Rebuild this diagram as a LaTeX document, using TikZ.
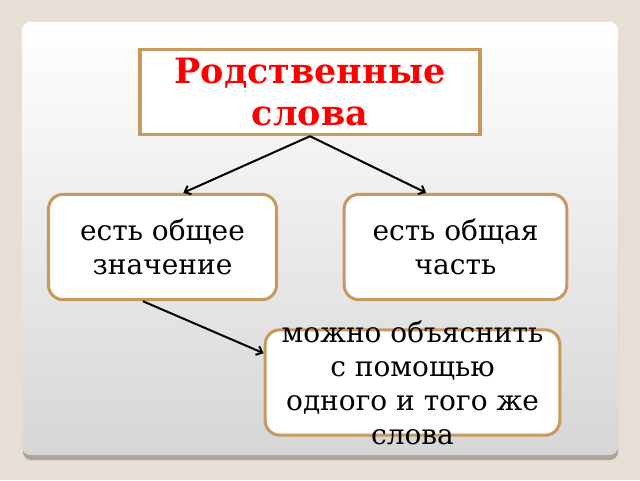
\documentclass[tikz,border=0pt]{standalone}
\usepackage{fontspec}
\setmainfont{DejaVu Serif}
\usetikzlibrary{calc}
\usetikzlibrary{arrows.meta}

\definecolor{slidebg}{HTML}{E6DFD5}
\definecolor{panelshadow}{HTML}{A9A69E}
\definecolor{panelbottom}{HTML}{D6D6D6}
\definecolor{boxborder}{HTML}{C69A5C}

\begin{document}
\begin{tikzpicture}
        [
        x=0.75pt, y=-0.75pt,
        titlebox/.style={draw=boxborder,line width=2.3pt,fill=white,inner sep=0pt,
                minimum width=255pt,minimum height=64pt},
        roundbox/.style={draw=boxborder,line width=2.3pt,fill=white,inner sep=0pt,
                rounded corners=11pt,minimum height=79pt},
        txt/.style={align=center,inner sep=0pt,font=\fontsize{21}{25.5}\selectfont},
        >={Straight Barb[length=4pt,width=7pt]}
        ]
        % slide and panel
        \fill[slidebg] (0,0) rectangle (640,480);
        \fill[panelshadow,rounded corners=6pt] (23,30) rectangle (618,460);
        \shade[top color=white,bottom color=panelbottom,rounded corners=6pt] (22,22) rectangle (618,455);

        \node[titlebox,text=red,align=center,font=\fontsize{26.2}{31.5}\selectfont\bfseries]
                (title) at (310,92) {Родственные\\слова};
        \node[roundbox,txt,minimum width=171pt] (meaning) at (162.5,247) {есть общее\\значение};
        \node[roundbox,txt,minimum width=167pt] (part) at (455.5,247) {есть общая\\часть};
        \node[roundbox,minimum width=221pt] (explain) at (412.5,382.5) {};
        \node[txt] (explaintxt) at (explain.center) {можно объяснить\\с помощью\\одного и того же\\слова};

        \draw[->,line width=1.5pt] (title.south) -- ($(meaning.north west)!0.59!(meaning.north east)$);
        \draw[->,line width=1.5pt] (title.south) -- ($(part.north west)!0.37!(part.north east)$);
        \draw[->,line width=1.5pt] ($(meaning.south west)!0.415!(meaning.south east)$)
                -- ($(explain.north west)!0.23!(explain.south west)$);
\end{tikzpicture}
\end{document}
